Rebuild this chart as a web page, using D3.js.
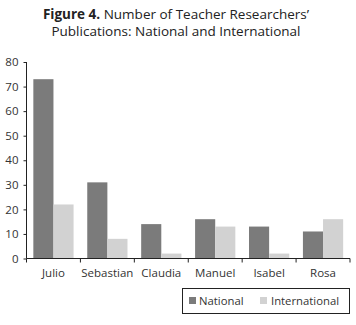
<!DOCTYPE html>
<html><head><meta charset="utf-8">
<script src="https://cdn.jsdelivr.net/npm/d3@7"></script>
<style>body{margin:0;background:#fff}svg{display:block}</style>
</head><body>
<svg id="c" width="356" height="325"></svg>
<script>
const categories = ["Julio","Sebastian","Claudia","Manuel","Isabel","Rosa"];
const seriesNames = ["National","International"];
const national = [73,31,14,16,13,11];
const international = [22,8,2,13,2,16];
const yTicks = [0,10,20,30,40,50,60,70,80];
const colors = ["#7b7b7b","#d2d2d2"];

(function(){
const svg = d3.select("#c");
const font = "'Open Sans', sans-serif";
const mL = 26.5, mR = 350, mT = 62, mB = 258.5;

const t = svg.append("text").attr("x",176).attr("y",19).attr("text-anchor","middle")
  .attr("font-family",font).attr("font-size",13.5).attr("fill","#222");
t.append("tspan").attr("font-weight","bold").text("Figure 4.");
t.append("tspan").text(" Number of Teacher Researchers’");
svg.append("text").attr("x",176).attr("y",35.5).attr("text-anchor","middle")
  .attr("font-family",font).attr("font-size",13.5).attr("fill","#222")
  .text("Publications: National and International");

const x = d3.scaleBand().domain(categories).range([mL,mR]).paddingInner(0).paddingOuter(0);
const xs = d3.scaleBand().domain(seriesNames).range([0,x.bandwidth()]).paddingOuter(0.34).paddingInner(0);
const y = d3.scaleLinear().domain([0,80]).range([mB,mT]);

const data = categories.map((c,i)=>({c, vals:[national[i],international[i]]}));
const g = svg.append("g");
g.selectAll("g.cat").data(data).join("g").attr("transform",d=>`translate(${x(d.c)},0)`)
  .selectAll("rect").data(d=>d.vals.map((v,j)=>({v,j})))
  .join("rect")
  .attr("x",d=>xs(seriesNames[d.j])).attr("width",xs.bandwidth())
  .attr("y",d=>y(d.v)).attr("height",d=>y(0)-y(d.v))
  .attr("fill",d=>colors[d.j]);

const yAxis = svg.append("g").attr("transform",`translate(${mL},0)`)
  .call(d3.axisLeft(y).tickValues(yTicks).tickSize(3).tickPadding(5));
const xAxis = svg.append("g").attr("transform",`translate(0,${mB})`)
  .call(d3.axisBottom(x).tickSize(0).tickPadding(10));
const xb = categories.map(c=>x(c)).concat([mR]);
svg.append("g").selectAll("line").data(xb).join("line")
  .attr("x1",d=>d).attr("x2",d=>d).attr("y1",mB).attr("y2",mB+4)
  .attr("stroke","#222");
[yAxis,xAxis].forEach(a=>{
  a.select(".domain").attr("stroke","#222");
  a.selectAll(".tick line").attr("stroke","#222");
  a.selectAll("text").attr("font-family",font).attr("font-size",11.5).attr("fill","#333");
});
xAxis.select(".domain").attr("d",`M${mL},0H${mR}`);
yAxis.select(".domain").attr("d",`M0,${mB}V${mT}`);

const lg = svg.append("g");
lg.append("rect").attr("x",182.5).attr("y",288.5).attr("width",167).attr("height",25)
  .attr("fill","none").attr("stroke","#222");
const items = [{n:seriesNames[0],sx:189,tx:199},{n:seriesNames[1],sx:260,tx:271}];
items.forEach((it,i)=>{
  lg.append("rect").attr("x",it.sx).attr("y",297).attr("width",7).attr("height",7).attr("fill",colors[i]);
  lg.append("text").attr("x",it.tx).attr("y",305).attr("font-family",font).attr("font-size",11.3).attr("fill","#333").text(it.n);
});
})();
</script>
</body></html>
